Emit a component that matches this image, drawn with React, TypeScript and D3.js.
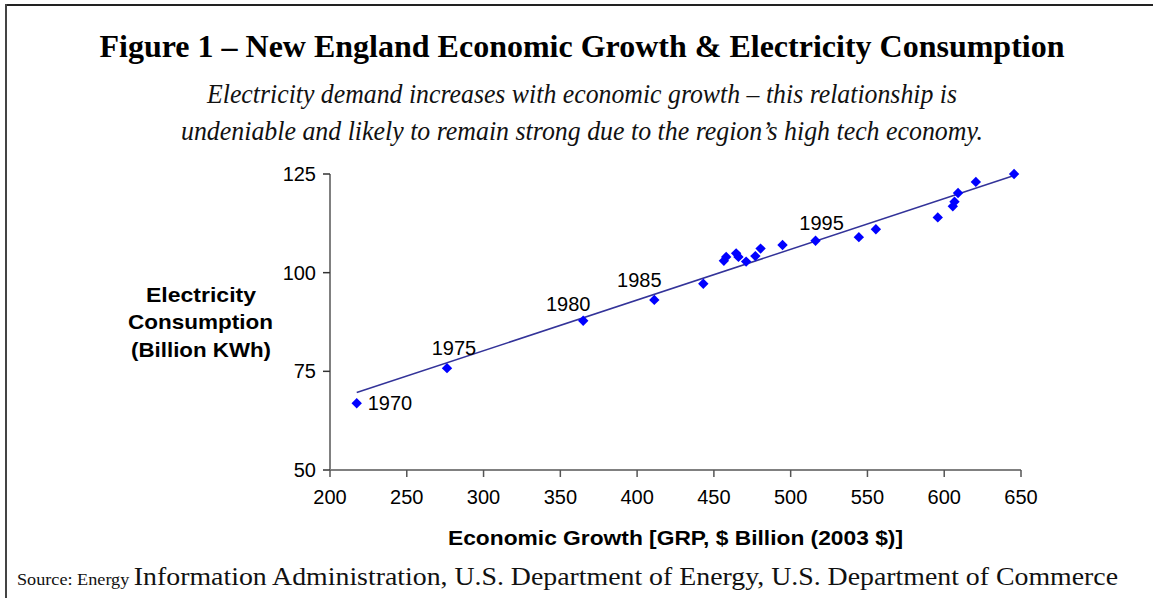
import React from "react";
import * as d3 from "d3";

const W = 1153;
const H = 598;

const gdp = [217.4, 276.2, 364.9, 411.2, 443.1, 456.5, 458.0, 464.5, 466.0, 471.0, 477.0, 480.4, 494.7, 516.2, 544.4, 555.5, 595.8, 605.6, 606.7, 609.0, 620.6, 645.5];
const kwh = [66.9, 75.8, 87.8, 93.1, 97.2, 103.0, 104.0, 104.9, 104.0, 102.8, 104.2, 106.1, 107.0, 108.1, 109.0, 111.0, 114.0, 116.8, 118.0, 120.2, 123.0, 125.0];
const labelIndex = [0, 1, 2, 3, 13];
const labelText = ["1970", "1975", "1980", "1985", "1995"];
const xTicks = [200, 250, 300, 350, 400, 450, 500, 550, 600, 650];
const yTicks = [50, 75, 100, 125];

const title = "Figure 1 \u2013 New England Economic Growth & Electricity Consumption";
const subtitle1 = "Electricity demand increases with economic growth \u2013 this relationship is";
const subtitle2 = "undeniable and likely to remain strong due to the region\u2019s high tech economy.";
const yTitle = ["Electricity", "Consumption", "(Billion KWh)"];
const xTitle = "Economic Growth [GRP, $ Billion (2003 $)]";
const sourceParts = ["Source: Energy ", "Information Administration, U.S. Department of Energy, U.S. Department of Commerce"];

// layout (label placement relative to its point)
const labelLayout = [
  { dx: 11, dy: 7, anchor: "start" },
  { dx: 7, dy: -13, anchor: "middle" },
  { dx: -15, dy: -10, anchor: "middle" },
  { dx: -15, dy: -13, anchor: "middle" },
  { dx: 6, dy: -11, anchor: "middle" },
];
const yTitleLayout = [
  { cx: 201, y: 302, len: 110 },
  { cx: 200.5, y: 329, len: 145 },
  { cx: 201, y: 356.5, len: 140 },
];

export default function App() {
  const x = d3.scaleLinear().domain([200, 650]).range([330, 1021]);
  const y = d3.scaleLinear().domain([50, 125]).range([470, 174]);

  const n = gdp.length;
  const mx = d3.mean(gdp)!;
  const my = d3.mean(kwh)!;
  let sxy = 0, sxx = 0;
  for (let i = 0; i < n; i++) {
    sxy += (gdp[i] - mx) * (kwh[i] - my);
    sxx += (gdp[i] - mx) ** 2;
  }
  const slope = sxy / sxx;
  const icpt = my - slope * mx;
  const x0 = d3.min(gdp)!;
  const x1 = d3.max(gdp)!;
  const trend = d3.line<number>().x((v) => x(v)).y((v) => y(icpt + slope * v))([x0, x1]);

  const diamond = d3.symbol().type(d3.symbolSquare).size(54)()!;
  const sans = "Arial, 'Liberation Sans', sans-serif";
  const serif = "'Times New Roman', 'Liberation Serif', serif";

  return (
    <svg width={W} height={H} style={{ position: "absolute", left: 0, top: 0, background: "#fff" }}>
      {/* frame */}
      <line x1={6} y1={5} x2={W} y2={5} stroke="#222" strokeWidth={2} />
      <line x1={6} y1={4} x2={6} y2={H} stroke="#444" strokeWidth={2} />

      <text x={582} y={57} textAnchor="middle" fontFamily={serif} fontWeight="bold" fontSize={31} textLength={965} lengthAdjust="spacingAndGlyphs">{title}</text>
      <text x={582} y={103} textAnchor="middle" fontFamily={serif} fontStyle="italic" fontSize={28} textLength={750} lengthAdjust="spacingAndGlyphs" fill="#111">{subtitle1}</text>
      <text x={582} y={140} textAnchor="middle" fontFamily={serif} fontStyle="italic" fontSize={28} textLength={802} lengthAdjust="spacingAndGlyphs" fill="#111">{subtitle2}</text>

      {/* axes */}
      <line x1={330} y1={y(125)} x2={330} y2={470} stroke="#808080" strokeWidth={2} />
      <line x1={330} y1={470} x2={x(650)} y2={470} stroke="#808080" strokeWidth={2} />
      {yTicks.map((t) => (
        <g key={"y" + t}>
          <line x1={323} x2={330} y1={y(t)} y2={y(t)} stroke="#333" strokeWidth={1.5} />
          <text x={316} y={y(t) + 7} textAnchor="end" fontFamily={sans} fontSize={20}>{t}</text>
        </g>
      ))}
      {xTicks.map((t) => (
        <g key={"x" + t}>
          <line x1={x(t)} x2={x(t)} y1={470} y2={477} stroke="#555" strokeWidth={1.5} />
          <text x={x(t)} y={504} textAnchor="middle" fontFamily={sans} fontSize={20}>{t}</text>
        </g>
      ))}

      {/* trend */}
      <path d={trend!} fill="none" stroke="#333399" strokeWidth={1.5} />

      {/* points */}
      {gdp.map((g, i) => (
        <path key={i} d={diamond} transform={`translate(${x(g)},${y(kwh[i])}) rotate(45)`} fill="#0000ff" />
      ))}

      {labelIndex.map((idx, k) => {
        const L = labelLayout[k];
        return (
          <text key={labelText[k]} x={x(gdp[idx]) + L.dx} y={y(kwh[idx]) + L.dy} textAnchor={L.anchor} fontFamily={sans} fontSize={20}>
            {labelText[k]}
          </text>
        );
      })}

      {yTitle.map((t, i) => (
        <text key={t} x={yTitleLayout[i].cx} y={yTitleLayout[i].y} textAnchor="middle" fontFamily={sans} fontWeight="bold" fontSize={21} textLength={yTitleLayout[i].len} lengthAdjust="spacingAndGlyphs">{t}</text>
      ))}
      <text x={675.5} y={545} textAnchor="middle" fontFamily={sans} fontWeight="bold" fontSize={21} textLength={455} lengthAdjust="spacingAndGlyphs">{xTitle}</text>

      <text x={17} y={585} fontFamily={serif} fill="#111" textLength={1101} lengthAdjust="spacingAndGlyphs">
        <tspan fontSize={17}>{sourceParts[0]}</tspan>
        <tspan fontSize={26}>{sourceParts[1]}</tspan>
      </text>
    </svg>
  );
}
